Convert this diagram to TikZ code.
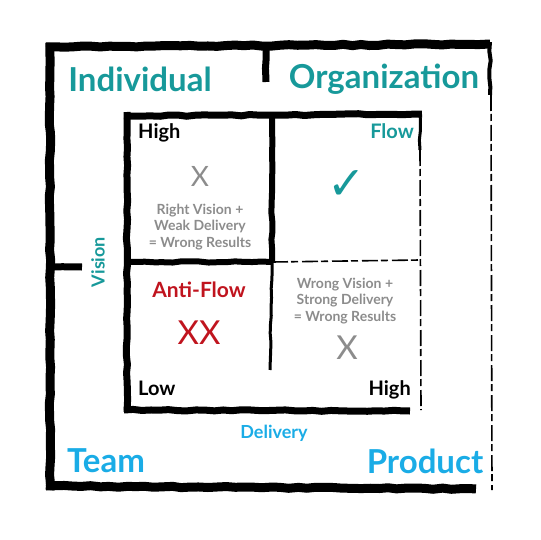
\documentclass[tikz,border=0pt]{standalone}
\usepackage{fontspec}
\setmainfont{Lato}
\newfontfamily\symfont{DejaVu Sans}
\usetikzlibrary{decorations.pathmorphing}
\definecolor{flowteal}{HTML}{17999A}
\definecolor{flowblue}{HTML}{1AACE6}
\definecolor{flowred}{HTML}{C0141E}
\definecolor{flowgray}{HTML}{8C8C8C}
\pgfmathsetseed{7}

\begin{document}
\begin{tikzpicture}[
  x=1pt, y=-1pt,
  heavy/.style={line width=#1, decorate, decoration={random steps, segment length=9pt, amplitude=0.7pt}},
  heavy/.default=9pt,
  faint/.style={line width=1.6pt, dash pattern=on 16pt off 3pt on 7pt off 4pt},
  corner/.style={font=\bfseries\fontsize{33}{36}\selectfont},
  axis/.style={font=\bfseries\fontsize{18}{20}\selectfont},
  level/.style={font=\bfseries\fontsize{20}{22}\selectfont, inner sep=0pt},
  note/.style={font=\bfseries\fontsize{14}{16.5}\selectfont, text=flowgray, align=center},
  cross/.style={font=\fontsize{33}{34}\selectfont}
]
\useasboundingbox (0,0) rectangle (540,540);

% outer frame
\draw[heavy] (46,47) -- (490,44);
\draw[heavy] (50,43) -- (50,490);
\draw[heavy] (46,486) -- (476,489);
\draw[heavy=4pt] (490,42) -- (490,95);
\draw[faint] (491,95) -- (492,490);
\draw[heavy=7pt] (266,50) -- (266,82);
\draw[heavy=7pt] (54,267) -- (82,267);

% inner quadrant box
\draw[heavy=7pt] (124,116) -- (422,114);
\draw[heavy=7pt] (127,112) -- (127,412);
\draw[heavy=7pt] (124,410) -- (410,411);
\draw[heavy=3pt] (420,113) -- (420,150);
\draw[faint] (420,150) -- (421,410);
\draw[heavy=6pt] (272,114) -- (272,262);
\draw[heavy=3pt] (272,262) -- (270,370);
\draw[heavy=6pt] (127,262) -- (272,262);
\draw[faint] (272,262) -- (420,260);

% corner labels
\node[corner, text=flowteal] (indiv) at (140,79) {Individual};
\node[corner, text=flowteal] (org) at (384,79) {Organization};
\node[corner, text=flowblue] (team) at (106,461) {Team};
\node[corner, text=flowblue] (prod) at (425,461) {Product};

% axes
\node[axis, text=flowteal, rotate=90] (vision) at (98,262) {Vision};
\node[axis, text=flowblue] (delivery) at (274,433) {Delivery};
\node[level, anchor=base west] (vhigh) at (138,139) {High};
\node[level, anchor=base west] (low) at (138,395) {Low};
\node[level, anchor=base east] (dhigh) at (411,395) {High};

% quadrants
\node[level, anchor=base east, text=flowteal] (flow) at (414,139) {Flow};
\node[text=flowteal, font=\symfont\bfseries\fontsize{46}{46}\selectfont] (tick) at (347,185) {✓};
\node[cross, text=flowgray, font=\fontsize{28}{30}\selectfont] (xtl) at (200,176) {X};
\node[note] (tl) at (200,227) {Right Vision +\\Weak Delivery\\= Wrong Results};
\node[level, text=flowred, font=\bfseries\fontsize{21}{22}\selectfont] (anti) at (199,290) {Anti-Flow};
\node[cross, text=flowred] (xx) at (199,333) {XX};
\node[note] (br) at (345,301) {Wrong Vision +\\Strong Delivery\\= Wrong Results};
\node[cross, text=flowgray] (xbr) at (347,348) {X};
\end{tikzpicture}
\end{document}
